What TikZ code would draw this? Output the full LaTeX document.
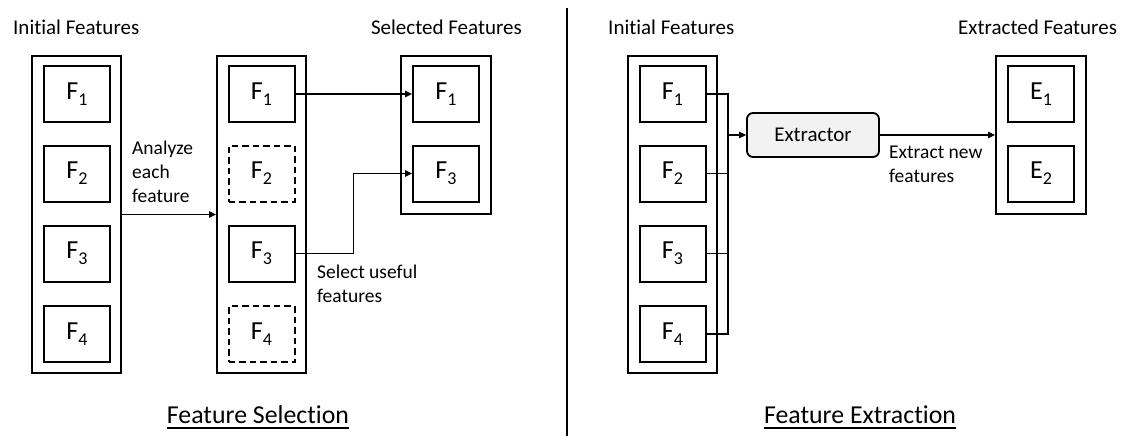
\documentclass[tikz,border=0pt]{standalone}
\usepackage{fontspec}
\setmainfont[Ligatures=NoCommon]{Carlito}
\usetikzlibrary{arrows.meta}
\newcommand{\fsub}[2]{{\fontsize{26}{26}\selectfont #1}\raisebox{-6pt}{\fontsize{18}{18}\selectfont #2}}
\newcommand{\myul}[1]{\setbox0\hbox{#1}\rlap{\rule[-5.6pt]{\wd0}{1.4pt}}\box0}
\begin{document}
\begin{tikzpicture}[x=1pt,y=-1pt,
  outer/.style={draw, line width=2pt, minimum width=89pt, inner sep=0pt, rectangle},
  feat/.style={draw, line width=2pt, minimum width=66pt, minimum height=56pt, inner sep=0pt, rectangle},
  dfeat/.style={feat, dash pattern=on 6.5pt off 4pt},
  conn/.style={line width=1.2pt},
  arr/.style={conn, -{Triangle[length=7pt,width=6.5pt]}},
  title/.style={font=\fontsize{21}{24}\selectfont, inner sep=0pt},
  lbl/.style={font=\fontsize{19.5}{24}\selectfont, align=left, inner sep=0pt, anchor=north west},
  big/.style={font=\fontsize{25.8}{30}\selectfont, inner sep=0pt, anchor=base},
  extr/.style={draw, line width=1.8pt, rounded corners=6pt, fill={rgb,255:red,242;green,242;blue,242},
    minimum width=132pt, minimum height=44pt, inner sep=0pt, font=\fontsize{21}{24}\selectfont}
]
\useasboundingbox (0,0) rectangle (1126,436);

% titles
\node[title, anchor=base west] (tA) at (13,35) {Initial Features};
\node[title, anchor=base east] (tC) at (522,35) {Selected Features};
\node[title, anchor=base west] (tD) at (608,35) {Initial Features};
\node[title, anchor=base west] (tE) at (958,35) {Extracted Features};

% column A: initial features
\node[outer, minimum height=317pt] (Ao) at (76.5,214.5) {};
\node[feat] (A1) at (77,94) {\fsub{F}{1}};
\node[feat] (A2) at (77,173.5) {\fsub{F}{2}};
\node[feat] (A3) at (77,253.5) {\fsub{F}{3}};
\node[feat] (A4) at (77,334) {\fsub{F}{4}};

% column B: analyzed
\node[outer, minimum height=317pt] (Bo) at (261.5,214.5) {};
\node[feat] (B1) at (261.5,94) {\fsub{F}{1}};
\node[dfeat] (B2) at (261.5,173.5) {\fsub{F}{2}};
\node[feat] (B3) at (261.5,253.5) {\fsub{F}{3}};
\node[dfeat] (B4) at (261.5,334) {\fsub{F}{4}};

% column C: selected
\node[outer, minimum width=90pt, minimum height=158pt] (Co) at (446,135) {};
\node[feat] (C1) at (446,94) {\fsub{F}{1}};
\node[feat] (C3) at (446,173.5) {\fsub{F}{3}};

% column D: initial features (right)
\node[outer, minimum height=317pt] (Do) at (672.5,214.5) {};
\node[feat] (D1) at (672.5,94) {\fsub{F}{1}};
\node[feat] (D2) at (672.5,173.5) {\fsub{F}{2}};
\node[feat] (D3) at (672.5,253.5) {\fsub{F}{3}};
\node[feat] (D4) at (672.5,334) {\fsub{F}{4}};

% extractor
\node[extr] (X) at (813,135) {Extractor};

% column E: extracted
\node[outer, minimum width=90pt, minimum height=158pt] (Eo) at (1041,135) {};
\node[feat] (E1) at (1041,94) {\fsub{E}{1}};
\node[feat] (E2) at (1041,173.5) {\fsub{E}{2}};

% labels
\node[lbl] (lA) at (132,141) {Analyze\\each\\feature};
\node[lbl] (lS) at (317,265) {Select useful\\features};
\node[lbl] (lE) at (889,146) {Extract new\\features};

% connectors left
\draw[arr] (Ao.east) -- (Bo.west);
\draw[arr] (B1.east) -- (C1.west);
\draw[arr] (B3.east) -- ++(58,0) |- (C3.west);

% connectors right
\coordinate (bus) at (728,135);
\draw[conn] (D1.east) -| (bus);
\draw[conn] (D4.east) -| (bus);
\draw[conn] (D2.east) -- (D2.east -| bus);
\draw[conn] (D3.east) -- (D3.east -| bus);
\draw[arr] (bus) -- (X.west);
\draw[arr] (X.east) -- (Eo.west);

% divider
\coordinate (dtop) at (567,8);
\coordinate (dbot) at (567,436);
\draw[line width=1.2pt] (dtop) -- (dbot);

% section titles
\node[big] (sel) at (258,423) {\myul{Feature Selection}};
\node[big] (ext) at (860,423) {\myul{Feature Extraction}};
\end{tikzpicture}
\end{document}
